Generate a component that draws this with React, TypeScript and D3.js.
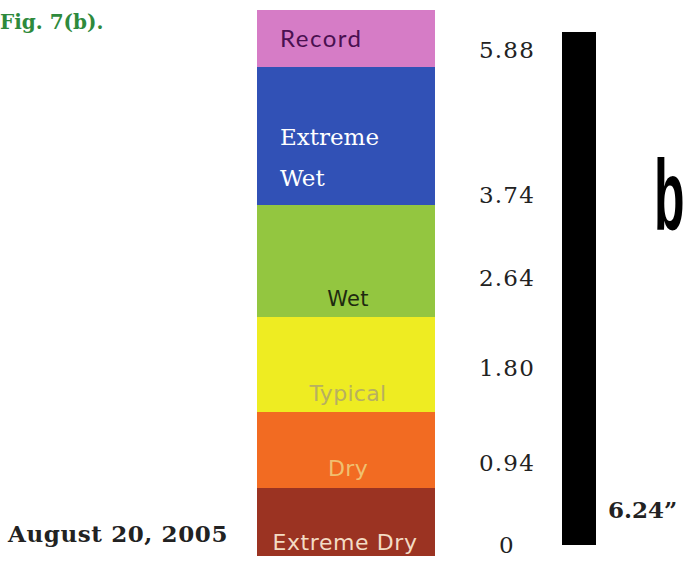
import React from "react";
import * as d3 from "d3";

// rainfall categories, bottom to top
const categories = ["Extreme Dry", "Dry", "Typical", "Wet", "Extreme Wet", "Record"];
const categoryColors = ["#9b3322", "#f26b22", "#eeec22", "#93c640", "#3151b6", "#d67cc6"];
const labelColors = ["#f3dcc4", "#f0c070", "#b8b060", "#1e2a10", "#ffffff", "#4a1050"];
// class breaks in inches
const thresholds = [0, 0.94, 1.8, 2.64, 3.74, 5.88, 6.5];
const tickLabels = ["0", "0.94", "1.80", "2.64", "3.74", "5.88"];
const observed = 6.24;
const dateLabel = "August 20, 2005";
const figLabel = "Fig. 7(b).";

const W = 689;
const H = 561;

export default function App() {
	// hand-drawn graphic: bands and labels are not evenly spaced, so piecewise scales
	const yBand = d3
		.scaleLinear()
		.domain(thresholds)
		.range([556, 488, 412, 317, 205, 67, 10]);
	const yTick = d3
		.scaleLinear()
		.domain([0, 0.94, 1.8, 2.64, 3.74, 5.88, observed])
		.range([545, 463, 368, 278, 195, 50, 32]);

	const bandX0 = 257;
	const bandX1 = 435;
	const bandMid = (bandX0 + bandX1) / 2;

	const bands = categories.map((c, i) => ({
		name: c,
		color: categoryColors[i],
		text: labelColors[i],
		y0: yBand(thresholds[i + 1]),
		y1: yBand(thresholds[i]),
	}));

	const labelFor = (b: (typeof bands)[number]) => {
		const mid = (b.y0 + b.y1) / 2;
		if (b.name === "Record")
			return (
				<text x={280} y={mid + 8} fontFamily="Lato, 'Open Sans', sans-serif" fontSize={24} fill={b.text} letterSpacing={1.5}>
					Record
				</text>
			);
		if (b.name === "Extreme Wet")
			return (
				<text x={280} fontFamily="'DejaVu Serif', serif" fontSize={23} fill={b.text}>
					<tspan x={280} y={b.y0 + 78}>Extreme</tspan>
					<tspan x={280} y={b.y0 + 119}>Wet</tspan>
				</text>
			);
		const ySpot: Record<string, number> = {
			Wet: b.y1 - 11,
			Typical: b.y1 - 11,
			Dry: b.y1 - 12,
			"Extreme Dry": b.y1 - 6,
		};
		const sizes: Record<string, number> = {Wet: 21, Typical: 22, Dry: 22, "Extreme Dry": 22};
		return (
			<text
				x={b.name === "Extreme Dry" ? bandMid - 1 : bandMid + 2}
				y={ySpot[b.name]}
				textAnchor="middle"
				fontFamily="'DejaVu Sans', sans-serif"
				fontSize={sizes[b.name]}
				letterSpacing={b.name === "Extreme Dry" ? 0.6 : 0.3}
				fill={b.text}
			>
				{b.name}
			</text>
		);
	};

	return (
		<div style={{position: "absolute", left: 0, top: 0}}>
			<svg width={W} height={H} style={{display: "block", background: "#fff"}}>
				<text x={0} y={29} fontFamily="'DejaVu Serif', serif" fontWeight="bold" fontSize={20} fill="#2e8a3c">
					{figLabel}
				</text>

				{bands.map((b) => (
					<g key={b.name}>
						<rect x={bandX0} y={b.y0} width={bandX1 - bandX0} height={b.y1 - b.y0} fill={b.color} />
						{labelFor(b)}
					</g>
				))}

				{tickLabels.map((t, i) => (
					<text
						key={t}
						x={507}
						y={yTick(thresholds[i]) + 8}
						textAnchor="middle"
						fontFamily="'DejaVu Serif', serif"
						fontSize={23}
						letterSpacing={1.2}
						fill="#222"
					>
						{t}
					</text>
				))}

				<rect x={562} y={yTick(observed)} width={34} height={yTick(0) - yTick(observed)} fill="#000" />
				<text x={608} y={518} fontFamily="'DejaVu Serif', serif" fontWeight="bold" fontSize={23} fill="#222">
					{observed.toFixed(2)}”
				</text>

				<text x={8} y={542} fontFamily="'DejaVu Serif', serif" fontWeight="bold" fontSize={23} letterSpacing={0.6} fill="#222">
					{dateLabel}
				</text>

				<text
					transform="translate(654,230) scale(0.5,1)"
					fontFamily="'Liberation Sans', sans-serif"
					fontWeight="bold"
					fontSize={100}
					fill="#000"
				>
					b
				</text>
			</svg>
		</div>
	);
}
